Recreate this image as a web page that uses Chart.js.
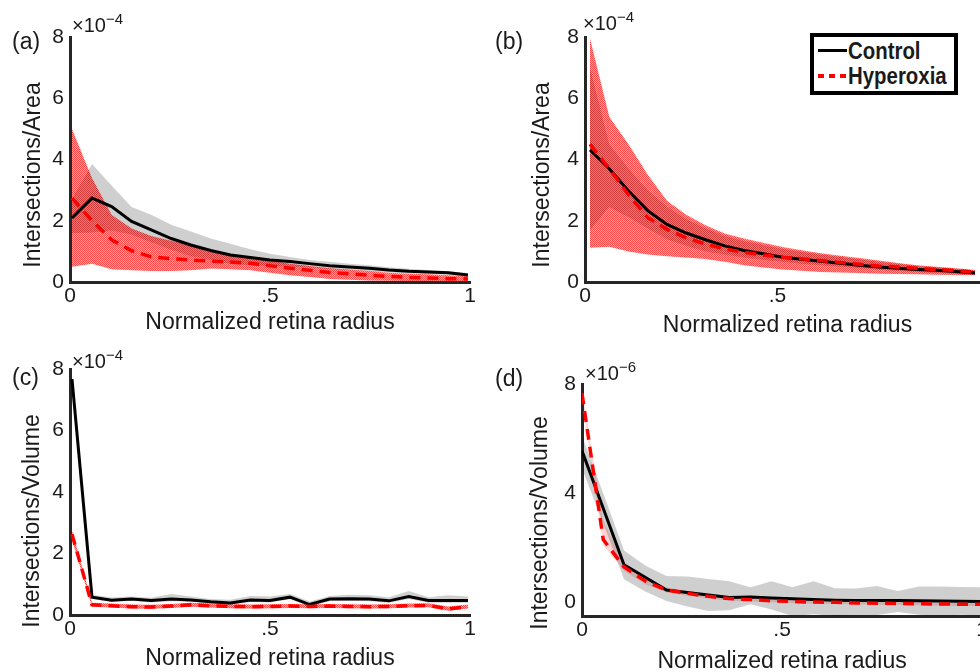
<!DOCTYPE html>
<html>
<head>
<meta charset="utf-8">
<script src="https://cdn.jsdelivr.net/npm/chart.js@4.4.0/dist/chart.umd.min.js"></script>
<style>
  body { margin: 0; width: 980px; height: 672px; overflow: hidden; position: relative; background: #fff;
         font-family: "Liberation Sans", Arial, sans-serif; color: #1a1a1a; }
  canvas { position: absolute; }
  .lbl { position: absolute; font-size: 23px; line-height: 23px; white-space: nowrap; }
  .mult { position: absolute; font-size: 20px; line-height: 20px; white-space: nowrap; }
  .mult span { font-size: 15px; position: relative; top: -8px; }
  .ytitle { position: absolute; font-size: 23px; line-height: 23px; white-space: nowrap;
            transform: translate(-50%, -50%) rotate(-90deg); }
  #legend { position: absolute; left: 810px; top: 33px; width: 148px; height: 62px; box-sizing: border-box;
            border: 4px solid #000; background: #fff; }
  .row { position: absolute; left: 0; height: 24px; width: 140px; }
  .row .txt { position: absolute; left: 34px; top: 0; font-weight: bold; font-size: 24px; line-height: 24px;
              transform: scaleX(0.85); transform-origin: left center; }
  .sample { position: absolute; left: 4px; top: 10px; width: 29px; height: 3px; background: #000; }
  .sample.dots { height: 4px; background: repeating-linear-gradient(90deg, #f00 0 6px, transparent 6px 11px); }
</style>
</head>
<body>
<canvas id="pa" width="490" height="336" style="left:0;top:0"></canvas>
<canvas id="pb" width="500" height="336" style="left:490px;top:0"></canvas>
<canvas id="pc" width="490" height="336" style="left:0;top:336px"></canvas>
<canvas id="pd" width="500" height="336" style="left:490px;top:336px"></canvas>

<div class="lbl" style="left:12px;top:30px">(a)</div>
<div class="lbl" style="left:495px;top:30px">(b)</div>
<div class="lbl" style="left:12px;top:366px">(c)</div>
<div class="lbl" style="left:495px;top:367px">(d)</div>

<div class="mult" style="left:72px;top:15px">×10<span>−4</span></div>
<div class="mult" style="left:583px;top:13px">×10<span>−4</span></div>
<div class="mult" style="left:72px;top:351px">×10<span>−4</span></div>
<div class="mult" style="left:585px;top:363px">×10<span>−6</span></div>

<div class="ytitle" style="left:32px;top:175px">Intersections/Area</div>
<div class="ytitle" style="left:541px;top:175px">Intersections/Area</div>
<div class="ytitle" style="left:31px;top:521px">Intersections/Volume</div>
<div class="ytitle" style="left:539px;top:523px">Intersections/Volume</div>

<div id="legend">
  <div class="row" style="top:2px"><div class="sample"></div><div class="txt">Control</div></div>
  <div class="row" style="top:27px"><div class="sample dots"></div><div class="txt">Hyperoxia</div></div>
</div>

<script>
// radius samples
const xAC = [0.005, 0.055, 0.104, 0.154, 0.203, 0.253, 0.302, 0.352, 0.401, 0.451, 0.500,
             0.550, 0.599, 0.649, 0.698, 0.748, 0.797, 0.847, 0.896, 0.946, 0.995];
const xB = [0.013, 0.063, 0.113, 0.163, 0.213, 0.263, 0.313, 0.363, 0.413, 0.463, 0.513,
            0.563, 0.613, 0.663, 0.713, 0.763, 0.813, 0.863, 0.913, 0.963, 1.013];
const xD = [0, 0.053, 0.105, 0.158, 0.211, 0.263, 0.316, 0.368, 0.421, 0.474,
            0.526, 0.579, 0.632, 0.684, 0.737, 0.789, 0.842, 0.895, 0.947, 1];

// (a) intersections / area, x1e-4
const aCtrl   = [2.09, 2.74, 2.46, 1.98, 1.70, 1.42, 1.21, 1.03, 0.88, 0.80, 0.72, 0.67, 0.60, 0.53, 0.49, 0.45, 0.39, 0.35, 0.33, 0.30, 0.23];
const aCtrlLo = [1.60, 1.62, 1.68, 1.55, 1.30, 1.05, 0.85, 0.72, 0.60, 0.55, 0.52, 0.50, 0.48, 0.42, 0.38, 0.35, 0.31, 0.28, 0.26, 0.24, 0.18];
const aCtrlHi = [2.70, 3.85, 3.15, 2.45, 2.20, 1.87, 1.65, 1.42, 1.25, 1.07, 0.92, 0.82, 0.72, 0.66, 0.60, 0.55, 0.48, 0.43, 0.39, 0.35, 0.29];
const aHyp    = [2.74, 2.00, 1.38, 1.02, 0.82, 0.76, 0.72, 0.68, 0.65, 0.61, 0.53, 0.45, 0.38, 0.31, 0.27, 0.22, 0.18, 0.15, 0.13, 0.11, 0.10];
const aHypLo  = [0.50, 0.60, 0.42, 0.38, 0.36, 0.36, 0.38, 0.44, 0.42, 0.38, 0.30, 0.22, 0.16, 0.10, 0.07, 0.05, 0.04, 0.03, 0.03, 0.02, 0.02];
const aHypHi  = [5.00, 3.40, 2.20, 1.75, 1.50, 1.35, 1.20, 1.05, 0.92, 0.80, 0.70, 0.60, 0.52, 0.45, 0.40, 0.36, 0.30, 0.27, 0.25, 0.22, 0.20];

// (b) intersections / area, x1e-4
const bCtrl   = [4.31, 3.70, 2.97, 2.33, 1.88, 1.60, 1.38, 1.18, 1.03, 0.92, 0.81, 0.74, 0.68, 0.61, 0.55, 0.49, 0.45, 0.41, 0.38, 0.34, 0.29];
const bCtrlLo = [1.70, 2.45, 2.12, 1.75, 1.40, 1.18, 1.00, 0.90, 0.80, 0.72, 0.66, 0.60, 0.55, 0.50, 0.45, 0.40, 0.37, 0.33, 0.30, 0.27, 0.24];
const bCtrlHi = [7.00, 4.50, 3.70, 3.00, 2.45, 2.05, 1.75, 1.50, 1.33, 1.20, 1.08, 0.98, 0.90, 0.82, 0.74, 0.66, 0.60, 0.53, 0.48, 0.43, 0.37];
const bHyp    = [4.50, 3.70, 2.85, 2.10, 1.72, 1.44, 1.24, 1.08, 0.97, 0.88, 0.81, 0.76, 0.70, 0.64, 0.58, 0.52, 0.49, 0.45, 0.41, 0.37, 0.33];
const bHypLo  = [1.12, 1.15, 1.00, 0.90, 0.84, 0.80, 0.75, 0.66, 0.55, 0.47, 0.41, 0.37, 0.33, 0.31, 0.29, 0.27, 0.26, 0.25, 0.24, 0.23, 0.22];
const bHypHi  = [7.95, 5.40, 4.50, 3.50, 2.65, 2.20, 1.85, 1.58, 1.42, 1.28, 1.14, 1.04, 0.94, 0.86, 0.78, 0.70, 0.62, 0.55, 0.50, 0.45, 0.39];

// (c) intersections / volume, x1e-4
const cCtrl   = [7.67, 0.58, 0.48, 0.52, 0.47, 0.52, 0.49, 0.43, 0.39, 0.49, 0.47, 0.58, 0.34, 0.52, 0.53, 0.52, 0.46, 0.60, 0.47, 0.47, 0.47];
const cCtrlLo = [7.60, 0.52, 0.42, 0.46, 0.41, 0.45, 0.43, 0.37, 0.33, 0.42, 0.41, 0.51, 0.28, 0.45, 0.46, 0.45, 0.40, 0.52, 0.40, 0.40, 0.40];
const cCtrlHi = [7.80, 0.66, 0.57, 0.60, 0.56, 0.68, 0.60, 0.52, 0.50, 0.62, 0.60, 0.68, 0.44, 0.62, 0.66, 0.64, 0.58, 0.78, 0.58, 0.64, 0.60];
const cHyp    = [2.63, 0.33, 0.30, 0.27, 0.26, 0.29, 0.33, 0.30, 0.28, 0.27, 0.28, 0.29, 0.28, 0.29, 0.28, 0.27, 0.28, 0.30, 0.31, 0.20, 0.27];
const cHypLo  = [2.45, 0.27, 0.24, 0.21, 0.20, 0.23, 0.27, 0.24, 0.22, 0.21, 0.22, 0.23, 0.22, 0.23, 0.22, 0.21, 0.22, 0.24, 0.25, 0.14, 0.21];
const cHypHi  = [2.75, 0.40, 0.37, 0.34, 0.33, 0.36, 0.40, 0.37, 0.35, 0.34, 0.35, 0.36, 0.35, 0.36, 0.35, 0.34, 0.35, 0.37, 0.38, 0.28, 0.34];

// (d) intersections / volume, x1e-6
const dCtrl   = [5.55, 3.45, 1.38, 0.92, 0.45, 0.36, 0.27, 0.18, 0.20, 0.16, 0.13, 0.10, 0.08, 0.07, 0.07, 0.07, 0.06, 0.05, 0.04, 0.03];
const dCtrlLo = [4.90, 2.90, 0.85, 0.40, 0.05, -0.15, -0.32, -0.29, -0.07, -0.26, -0.50, -0.44, -0.50, -0.48, -0.46, -0.35, -0.45, -0.48, -0.45, -0.48];
const dCtrlHi = [6.10, 4.00, 1.90, 1.35, 0.97, 0.95, 0.86, 0.77, 0.55, 0.77, 0.55, 0.77, 0.52, 0.51, 0.60, 0.42, 0.58, 0.58, 0.56, 0.55];
const dHyp    = [7.66, 2.30, 1.30, 0.78, 0.45, 0.33, 0.22, 0.14, 0.10, 0.06, 0.03, 0.01, 0.00, -0.02, -0.03, -0.04, -0.05, -0.06, -0.07, -0.07];
const dHypLo  = [7.50, 2.10, 1.15, 0.66, 0.36, 0.24, 0.14, 0.06, 0.03, 0.00, -0.03, -0.05, -0.06, -0.08, -0.09, -0.10, -0.11, -0.12, -0.13, -0.13];
const dHypHi  = [7.80, 3.00, 1.45, 0.90, 0.55, 0.42, 0.30, 0.22, 0.17, 0.12, 0.09, 0.07, 0.06, 0.04, 0.03, 0.02, 0.01, 0.00, 0.00, -0.01];

// ticks
const xTicks = [0, 0.5, 1];
const xTicksB = [0, 0.5];
const xTickText = ['0', '.5', '1'];
const yTicksArea = [0, 2, 4, 6, 8];
const yTicksD = [0, 4, 8];

const TXT = '#1a1a1a';
const AXIS = '#262626';
const GRAY = 'rgba(0,0,0,0.19)';
Chart.defaults.font.family = '"Liberation Sans", Arial, sans-serif';

// dithered red like the original shaded patches
function redDots() {
    const c = document.createElement('canvas');
    c.width = 2; c.height = 2;
    const g = c.getContext('2d');
    g.fillStyle = 'rgba(255,0,0,0.72)';
    g.fillRect(0, 0, 1, 1); g.fillRect(1, 1, 1, 1);
    g.fillStyle = 'rgba(255,30,30,0.4)';
    g.fillRect(1, 0, 1, 1); g.fillRect(0, 1, 1, 1);
    return g.createPattern(c, 'repeat');
}

const pts = (xs, ys) => xs.map((x, i) => ({ x: x, y: ys[i] }));

function panel(id, p) {
    const band = { pointRadius: 0, borderWidth: 0, borderColor: 'transparent' };
    new Chart(document.getElementById(id), {
        type: 'line',
        data: {
            datasets: [
                { label: 'Hyperoxia', data: pts(p.x, p.hyp), borderColor: '#ff0000', borderWidth: 3.5, borderDash: [11, 7], pointRadius: 0, order: 0 },
                { label: 'Control', data: pts(p.x, p.ctrl), borderColor: '#000000', borderWidth: 3, pointRadius: 0, order: 1 },
                { ...band, data: pts(p.x, p.ctrlLo), order: 2 },
                { ...band, data: pts(p.x, p.ctrlHi), order: 2, fill: 2, backgroundColor: GRAY },
                { ...band, data: pts(p.x, p.hypLo), order: 3 },
                { ...band, data: pts(p.x, p.hypHi), order: 3, fill: 4, backgroundColor: p.redFill }
            ]
        },
        options: {
            responsive: false,
            animation: false,
            layout: { padding: { left: 0, top: p.top, right: p.right, bottom: 0 } },
            plugins: { legend: { display: false }, tooltip: { enabled: false } },
            scales: {
                x: {
                    type: 'linear', min: 0, max: p.xMax,
                    grid: { display: false, drawTicks: false },
                    border: { display: true, color: AXIS, width: 3 },
                    ticks: { font: { size: 21 }, color: TXT, padding: 2,
                             callback: v => xTickText[xTicks.indexOf(v)] },
                    title: { display: true, text: 'Normalized retina radius', color: TXT,
                             font: { size: 23 }, padding: { top: 0, bottom: p.xtPad } },
                    afterBuildTicks: s => { s.ticks = p.xTicks.map(v => ({ value: v })); },
                    afterFit: s => { s.height = p.xH; }
                },
                y: {
                    min: p.yMin, max: 8,
                    grid: { display: false, drawTicks: false },
                    border: { display: true, color: AXIS, width: 3 },
                    ticks: { font: { size: 21 }, color: TXT, padding: 6 },
                    afterBuildTicks: s => { s.ticks = p.yTicks.map(v => ({ value: v })); },
                    afterFit: s => { s.width = p.yW; }
                }
            }
        }
    });
}

const dots = redDots();
panel('pa', { x: xAC, ctrl: aCtrl, ctrlLo: aCtrlLo, ctrlHi: aCtrlHi, hyp: aHyp, hypLo: aHypLo, hypHi: aHypHi,
              redFill: dots, top: 37, right: 20, yW: 70, xH: 54, xtPad: 0, xMax: 1, xTicks: xTicks, yMin: 0, yTicks: yTicksArea });
panel('pb', { x: xB, ctrl: bCtrl, ctrlLo: bCtrlLo, ctrlHi: bCtrlHi, hyp: bHyp, hypLo: bHypLo, hypHi: bHypHi,
              redFill: dots, top: 37, right: 0, yW: 95, xH: 54, xtPad: -3, xMax: 1.052, xTicks: xTicksB, yMin: 0, yTicks: yTicksArea });
panel('pc', { x: xAC, ctrl: cCtrl, ctrlLo: cCtrlLo, ctrlHi: cCtrlHi, hyp: cHyp, hypLo: cHypLo, hypHi: cHypHi,
              redFill: dots, top: 33, right: 20, yW: 70, xH: 57, xtPad: 0, xMax: 1, xTicks: xTicks, yMin: 0, yTicks: yTicksArea });
panel('pd', { x: xD, ctrl: dCtrl, ctrlLo: dCtrlLo, ctrlHi: dCtrlHi, hyp: dHyp, hypLo: dHypLo, hypHi: dHypHi,
              redFill: 'rgba(255,0,0,0.16)', top: 48, right: 6, yW: 92, xH: 56, xtPad: -3, xMax: 1, xTicks: xTicks, yMin: -0.5, yTicks: yTicksD });
</script>
</body>
</html>
